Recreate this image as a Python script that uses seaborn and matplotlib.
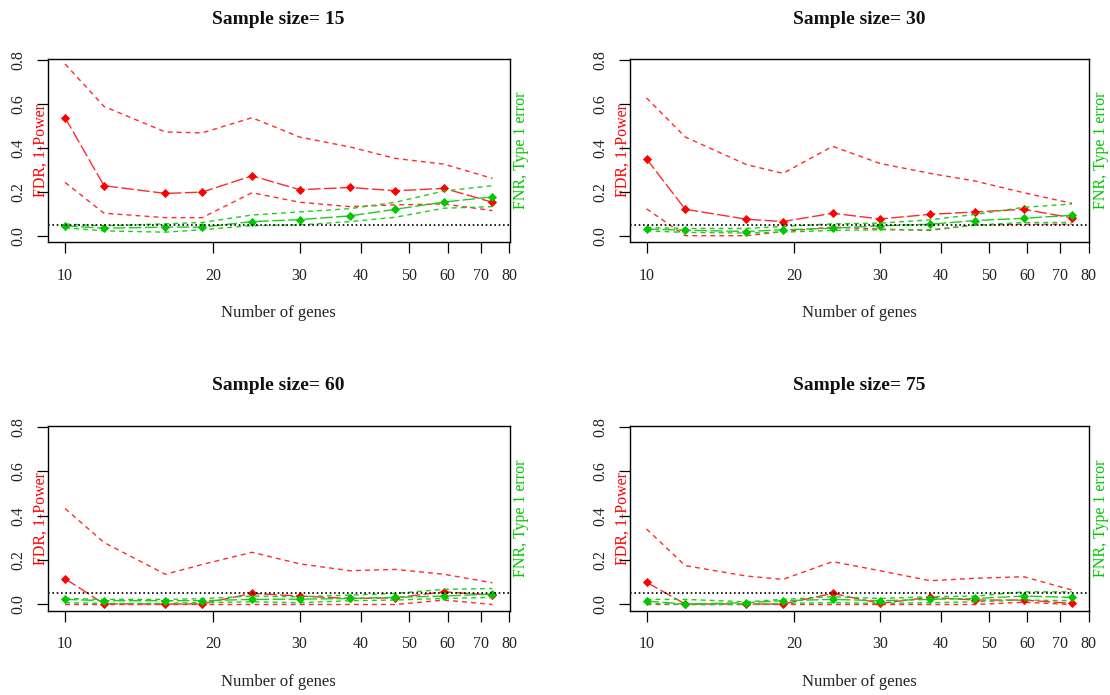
import numpy as np
import pandas as pd
import matplotlib
matplotlib.use("Agg")
import matplotlib.pyplot as plt
import seaborn as sns

# ---------------- data ----------------
sample_sizes = [15, 30, 60, 75]
genes = [10, 12, 16, 19, 24, 30, 38, 47, 59, 74]
x_ticks = [10, 20, 30, 40, 50, 60, 70, 80]
x_tick_labels = ["10", "20", "30", "40", "50", "60", "70", "80"]
y_ticks = [0.0, 0.2, 0.4, 0.6, 0.8]
y_tick_labels = ["0.0", "0.2", "0.4", "0.6", "0.8"]
alpha_level = 0.05

fdr_mean = {
    15: [0.538, 0.229, 0.194, 0.200, 0.274, 0.211, 0.221, 0.206, 0.217, 0.154],
    30: [0.351, 0.122, 0.077, 0.066, 0.104, 0.078, 0.099, 0.110, 0.122, 0.083],
    60: [0.116, 0.003, 0.002, 0.003, 0.050, 0.038, 0.027, 0.030, 0.057, 0.042],
    75: [0.100, 0.002, 0.002, 0.002, 0.050, 0.005, 0.032, 0.020, 0.020, 0.005],
}
fdr_upper = {
    15: [0.782, 0.589, 0.473, 0.469, 0.538, 0.450, 0.405, 0.353, 0.327, 0.262],
    30: [0.628, 0.450, 0.325, 0.285, 0.408, 0.330, 0.285, 0.250, 0.197, 0.149],
    60: [0.432, 0.279, 0.136, 0.180, 0.235, 0.183, 0.152, 0.158, 0.136, 0.098],
    75: [0.340, 0.175, 0.128, 0.113, 0.193, 0.152, 0.107, 0.118, 0.125, 0.065],
}
fdr_lower = {
    15: [0.244, 0.104, 0.084, 0.084, 0.197, 0.154, 0.134, 0.142, 0.146, 0.116],
    30: [0.124, 0.002, 0.002, 0.021, 0.041, 0.032, 0.026, 0.051, 0.054, 0.054],
    60: [0.000, 0.000, 0.000, 0.000, 0.000, 0.000, 0.000, 0.000, 0.020, 0.000],
    75: [0.000, 0.000, 0.000, 0.000, 0.000, 0.000, 0.000, 0.000, 0.010, 0.000],
}
fnr_mean = {
    15: [0.047, 0.036, 0.041, 0.041, 0.066, 0.075, 0.092, 0.122, 0.155, 0.178],
    30: [0.032, 0.027, 0.021, 0.029, 0.036, 0.047, 0.054, 0.071, 0.081, 0.095],
    60: [0.023, 0.017, 0.017, 0.017, 0.023, 0.024, 0.027, 0.032, 0.038, 0.047],
    75: [0.015, 0.002, 0.008, 0.017, 0.023, 0.017, 0.023, 0.027, 0.038, 0.032],
}
fnr_upper = {
    15: [0.055, 0.047, 0.056, 0.062, 0.096, 0.110, 0.125, 0.154, 0.205, 0.229],
    30: [0.039, 0.035, 0.035, 0.044, 0.056, 0.059, 0.074, 0.099, 0.131, 0.146],
    60: [0.027, 0.023, 0.023, 0.026, 0.038, 0.035, 0.042, 0.050, 0.068, 0.072],
    75: [0.023, 0.023, 0.012, 0.023, 0.035, 0.027, 0.035, 0.038, 0.057, 0.057],
}
fnr_lower = {
    15: [0.038, 0.024, 0.018, 0.029, 0.048, 0.051, 0.066, 0.086, 0.127, 0.134],
    30: [0.024, 0.017, 0.014, 0.018, 0.026, 0.029, 0.029, 0.050, 0.062, 0.062],
    60: [0.008, 0.005, 0.005, 0.008, 0.012, 0.008, 0.017, 0.020, 0.027, 0.032],
    75: [0.005, 0.000, 0.000, 0.005, 0.008, 0.005, 0.008, 0.012, 0.020, 0.017],
}

# ---------------- style ----------------
sns.set_theme(style="white")
plt.rcParams["font.family"] = ["Liberation Serif", "DejaVu Serif"]

RED_PT = "#FF0000"
RED_LN = "#FF2A2A"
GRN_PT = "#00C800"
GRN_LN = "#1FCC1F"
MEAN_DASH = (0, (9, 2.5))
BOUND_DASH = (0, (3.5, 3))

W, H = 1110, 695
fig = plt.figure(figsize=(W / 100, H / 100), dpi=100)

# panel boxes in pixel coords: left, right, top, bottom
boxes = {
    15: (48, 509.5, 58.7, 242.3),
    30: (629.5, 1089, 58.7, 242.3),
    60: (48, 509.5, 425.5, 610.7),
    75: (629.5, 1089, 425.5, 610.7),
}

lo, hi = np.log10(min(genes)), np.log10(max(genes))
span = hi - lo
xlim = (10 ** (lo - 0.04 * span), 10 ** (hi + 0.04 * span))

for n in sample_sizes:
    l, r, t, b = boxes[n]
    ax = fig.add_axes([l / W, 1 - b / H, (r - l) / W, (b - t) / H])
    ax.set_facecolor("white")

    def line(vals, color, ls, z):
        sns.lineplot(x=genes, y=vals, ax=ax, color=color, linewidth=1.0,
                     linestyle=ls, estimator=None, sort=False, legend=False,
                     zorder=z)

    line(fdr_upper[n], RED_LN, BOUND_DASH, 2)
    line(fdr_lower[n], RED_LN, BOUND_DASH, 2)
    line(fdr_mean[n], RED_LN, MEAN_DASH, 2)
    sns.scatterplot(x=genes, y=fdr_mean[n], ax=ax, color=RED_PT, marker="D",
                    s=22, linewidth=0, legend=False, zorder=3)
    line(fnr_upper[n], GRN_LN, BOUND_DASH, 4)
    line(fnr_lower[n], GRN_LN, BOUND_DASH, 4)
    line(fnr_mean[n], GRN_LN, MEAN_DASH, 4)
    sns.scatterplot(x=genes, y=fnr_mean[n], ax=ax, color=GRN_PT, marker="D",
                    s=22, linewidth=0, legend=False, zorder=5)

    ax.axhline(alpha_level, color="black", linewidth=1.2,
               linestyle=(0, (1.0, 1.6)), zorder=6)

    ax.set_xscale("log")
    ax.set_xlim(*xlim)
    ax.set_ylim(-0.028, 0.806)
    ax.set_xticks(x_ticks)
    ax.set_xticklabels(x_tick_labels)
    ax.xaxis.set_minor_locator(matplotlib.ticker.NullLocator())
    ax.set_yticks(y_ticks)
    ax.set_yticklabels(y_tick_labels, rotation=90, va="center")

    for sp in ax.spines.values():
        sp.set_visible(True)
        sp.set_color("black")
        sp.set_linewidth(1.0)

    ax.tick_params(axis="x", which="major", bottom=True, direction="out",
                   length=8, width=0.9, color="black", pad=10.5,
                   labelsize=11.5, labelcolor="#222222")
    ax.tick_params(axis="y", which="major", left=True, direction="out",
                   length=8, width=0.9, color="black", pad=7.5,
                   labelsize=11.5, labelcolor="#222222")
    ax.tick_params(axis="both", which="minor", bottom=False, left=False)

    ax.set_xlabel("Number of genes", fontsize=12, color="#222222")
    ax.xaxis.set_label_coords(0.5, -0.385)
    ax.xaxis.label.set_va("center")
    ax.set_ylabel("")

    ax.text(0.5, 1.215, f"Sample size= {n}", transform=ax.transAxes,
            ha="center", va="center", fontsize=14, fontweight="bold",
            color="#111111")
    ax.text(-0.016, 0.5, "FDR, 1-Power", transform=ax.transAxes,
            ha="center", va="center", rotation=90, fontsize=11.5,
            color=RED_PT)
    ax.text(1.026, 0.5, "FNR, Type 1 error", transform=ax.transAxes,
            ha="center", va="center", rotation=90, fontsize=11.5,
            color=GRN_PT)

fig.savefig("out.png", dpi=100, facecolor="white")
